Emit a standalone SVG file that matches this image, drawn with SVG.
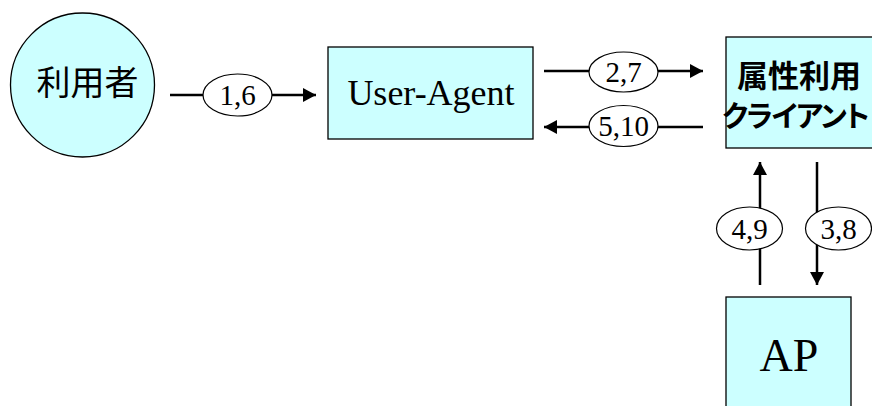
<svg xmlns="http://www.w3.org/2000/svg" width="872" height="406" viewBox="0 0 872 406">
<style>
.node{fill:#CCFFFF;stroke:#000;stroke-width:1.3}
.serif{font-family:"Liberation Serif","Times New Roman",serif;fill:#000}
.jp{font-family:"Noto Sans CJK JP","Noto Sans CJK SC",sans-serif;fill:#000}
.edge{stroke:#000;stroke-width:2.5;fill:none;marker-end:url(#ah)}
.lbl{fill:#fff;stroke:#000;stroke-width:1.2}
.lt{font-family:"Liberation Serif","Times New Roman",serif;font-size:29px;text-anchor:middle;fill:#000}
</style>
<defs>
<marker id="ah" markerUnits="userSpaceOnUse" markerWidth="14" markerHeight="14" refX="13" refY="7" orient="auto" viewBox="0 0 14 14">
<path d="M0,0 L13,7 L0,14 Z" fill="#000"/>
</marker>
</defs>
<rect width="872" height="406" fill="#fff"/>
<g id="user">
<circle class="node" cx="82.5" cy="85" r="72"/>
<text class="jp" x="87.5" y="95" font-size="34" text-anchor="middle">利用者</text>
</g>
<g id="user-agent">
<rect class="node" x="328" y="47" width="205" height="92"/>
<text class="serif" x="431" y="105" font-size="36" text-anchor="middle">User-Agent</text>
</g>
<g id="attr-client">
<rect class="node" x="726" y="37" width="160" height="111"/>
<text class="jp" x="737" y="87" font-size="31" font-weight="bold">属性利用</text>
<text class="jp" x="722" y="127" font-size="29" font-weight="bold" style="font-feature-settings:'palt';letter-spacing:-1.5px">クライアント</text>
</g>
<g id="ap">
<rect class="node" x="726" y="297" width="125" height="120"/>
<text class="serif" x="789" y="371" font-size="46" text-anchor="middle">AP</text>
</g>
<g id="connectors">
<line class="edge" x1="170" y1="95" x2="316" y2="95"/>
<ellipse class="lbl" cx="237.5" cy="95" rx="34.5" ry="21"/>
<text class="lt" x="237.5" y="105">1,6</text>
<line class="edge" x1="544" y1="71" x2="703" y2="71"/>
<ellipse class="lbl" cx="623.5" cy="72" rx="34.5" ry="20"/>
<text class="lt" x="623.5" y="82">2,7</text>
<line class="edge" x1="703" y1="127" x2="544" y2="127"/>
<ellipse class="lbl" cx="623.5" cy="126" rx="34.5" ry="20.5"/>
<text class="lt" x="623.5" y="136">5,10</text>
<line class="edge" x1="760" y1="285" x2="760" y2="162"/>
<ellipse class="lbl" cx="749.5" cy="228.5" rx="33" ry="21.5"/>
<text class="lt" x="749.5" y="238.5">4,9</text>
<line class="edge" x1="817" y1="162" x2="817" y2="285"/>
<ellipse class="lbl" cx="838.5" cy="228.5" rx="33" ry="21.5"/>
<text class="lt" x="838.5" y="238.5">3,8</text>
</g>
</svg>
